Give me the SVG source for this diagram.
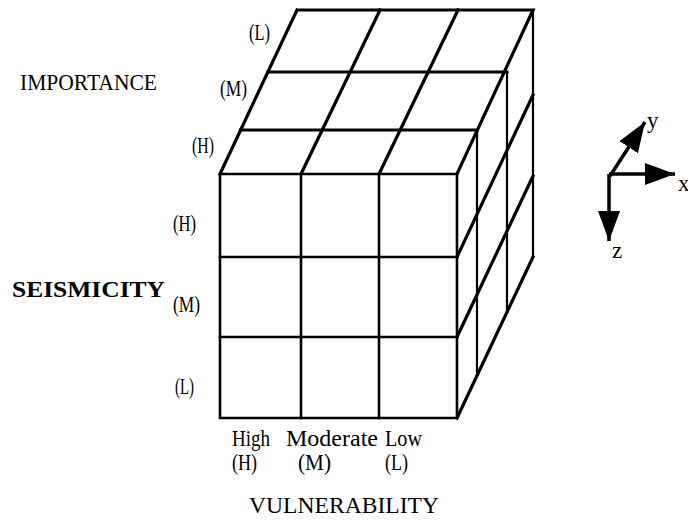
<svg xmlns="http://www.w3.org/2000/svg" width="688" height="532" viewBox="0 0 688 532">
  <style>
    .edge { fill: none; stroke: #000; stroke-width: 3.2; stroke-linecap: square; stroke-linejoin: miter; }
    .grid { fill: none; stroke: #000; stroke-width: 2.6; stroke-linecap: square; }
    .thin { fill: none; stroke: #000; stroke-width: 2.2; stroke-linecap: butt; }
    .lbl { font-family: "Liberation Serif", "Times New Roman", serif; font-size: 23px; fill: #000; }
    .axis { fill: none; stroke: #000; stroke-width: 3.5; stroke-linecap: butt; }
  </style>
  <defs>
    <marker id="arrow" markerUnits="userSpaceOnUse" markerWidth="32" markerHeight="24" refX="30" refY="11" orient="auto">
      <path d="M0,0 L30,11 L0,22 Z" fill="#000"/>
    </marker>
  </defs>
  <rect width="688" height="532" fill="#fff"/>

  <g id="cube">
    <g id="top-face">
      <path class="edge" d="M220,174 L297,10 M300,10 L533,10 L457,174"/>
      <path class="edge" d="M301,174 L380,10 M379,174 L458,10"/>
      <path class="edge" d="M240.5,130 L477,130 M268,72 L507,72"/>
    </g>
    <g id="front-face">
      <path class="grid" d="M220,174 L457,174 L457,418 L220,418 Z"/>
      <path class="grid" d="M301,174 L301,418 M379,174 L379,418 M220,257 L457,257 M220,337 L457,337"/>
    </g>
    <g id="right-face">
      <path class="edge" d="M457,257 L533,95 M457,337 L533,176 M457,418 L533,257"/>
      <path class="thin" d="M533,10 L533,257 M477,130 L477,376 M507,72 L507,312"/>
    </g>
  </g>

  <g id="importance-labels">
    <text class="lbl" x="20" y="90" font-size="22" textLength="137" lengthAdjust="spacingAndGlyphs">IMPORTANCE</text>
    <text class="lbl" x="249" y="39.5" textLength="21" lengthAdjust="spacingAndGlyphs">(L)</text>
    <text class="lbl" x="220" y="96" textLength="27" lengthAdjust="spacingAndGlyphs">(M)</text>
    <text class="lbl" x="192" y="152.5" textLength="22" lengthAdjust="spacingAndGlyphs">(H)</text>
  </g>

  <g id="seismicity-labels">
    <text class="lbl" x="12" y="297" font-weight="bold" font-size="20" textLength="153" lengthAdjust="spacingAndGlyphs">SEISMICITY</text>
    <text class="lbl" x="173" y="231" textLength="23" lengthAdjust="spacingAndGlyphs">(H)</text>
    <text class="lbl" x="173" y="312" textLength="27" lengthAdjust="spacingAndGlyphs">(M)</text>
    <text class="lbl" x="175" y="394" textLength="19" lengthAdjust="spacingAndGlyphs">(L)</text>
  </g>

  <g id="vulnerability-labels">
    <text class="lbl" x="232" y="445.5" font-size="22" textLength="38" lengthAdjust="spacingAndGlyphs">High</text>
    <text class="lbl" x="286" y="445.5" font-size="22" textLength="92" lengthAdjust="spacingAndGlyphs">Moderate</text>
    <text class="lbl" x="385" y="445.5" font-size="22" textLength="37" lengthAdjust="spacingAndGlyphs">Low</text>
    <text class="lbl" x="232" y="470" font-size="21" textLength="25" lengthAdjust="spacingAndGlyphs">(H)</text>
    <text class="lbl" x="298" y="470" font-size="21" textLength="33" lengthAdjust="spacingAndGlyphs">(M)</text>
    <text class="lbl" x="385" y="470" font-size="21" textLength="23" lengthAdjust="spacingAndGlyphs">(L)</text>
    <text class="lbl" x="249" y="513" font-size="25" textLength="190" lengthAdjust="spacingAndGlyphs">VULNERABILITY</text>
  </g>

  <g id="axes">
    <path class="axis" d="M609,174 L675,174" marker-end="url(#arrow)"/>
    <path class="axis" d="M609,174 L609,241" marker-end="url(#arrow)"/>
    <path class="axis" d="M610,176 L645,122" marker-end="url(#arrow)"/>
    <text class="lbl" x="647" y="128" font-size="21">y</text>
    <text class="lbl" x="678" y="191" font-size="22">x</text>
    <text class="lbl" x="612" y="257.5" font-size="22">z</text>
  </g>
</svg>
